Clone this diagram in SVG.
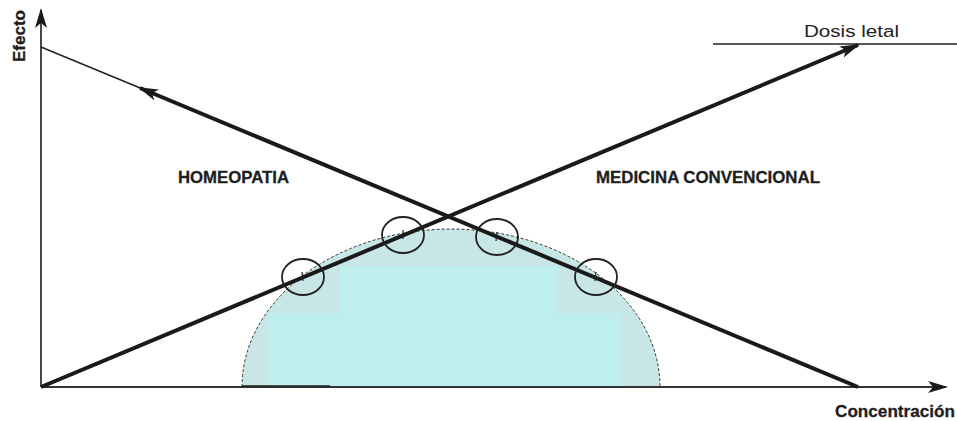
<svg xmlns="http://www.w3.org/2000/svg" width="957" height="421" viewBox="0 0 957 421">
<style>
.lbl{font-family:"Liberation Sans",Arial,sans-serif;font-weight:bold;fill:#1e1e1e;stroke:#1e1e1e;stroke-width:0.3}
.thick{stroke:#1a1a1a;stroke-width:4;fill:none}
.axis{stroke:#333;stroke-width:1.8;fill:none}
.ring{fill:none;stroke:#222;stroke-width:1.8}
</style>
<defs>
<clipPath id="dome"><ellipse cx="451" cy="387" rx="209" ry="158"/></clipPath>
<marker id="ah" viewBox="0 0 20 12" refX="18" refY="6" markerWidth="20" markerHeight="12" markerUnits="userSpaceOnUse" orient="auto">
<path d="M0,0 L20,6 L0,12 L5,6 Z" fill="#1a1a1a"/>
</marker>
</defs>
<rect width="957" height="421" fill="#fff"/>
<g id="dome-area">
<g clip-path="url(#dome)">
<rect x="240" y="225" width="422" height="162" fill="#c8e6e6"/>
<rect x="340" y="266" width="218" height="121" fill="#bfeeee"/>
<rect x="269" y="313" width="353" height="74" fill="#bfeeee"/>
</g>
<path d="M242,387 A209,158 0 0 1 660,387" fill="none" stroke="#333" stroke-width="1" stroke-dasharray="3,2"/>
</g>
<g id="connectors">
<line class="axis" x1="41" y1="387" x2="41" y2="10" marker-end="url(#ah)"/>
<line class="axis" x1="41" y1="387" x2="946" y2="387" marker-end="url(#ah)"/>
<line x1="713" y1="44" x2="957" y2="44" stroke="#222" stroke-width="1.5"/>
<line x1="41" y1="47" x2="145" y2="90" stroke="#222" stroke-width="1.5"/>
<line class="thick" x1="858" y1="387" x2="140" y2="88" marker-end="url(#ah)"/>
<line class="thick" x1="41" y1="387" x2="858" y2="45" marker-end="url(#ah)"/>
<line x1="242" y1="386" x2="330" y2="386" stroke="#222" stroke-width="1.5"/>
</g>
<g id="rings">
<ellipse class="ring" cx="303" cy="277" rx="21" ry="18"/>
<ellipse class="ring" cx="403" cy="235" rx="21" ry="18"/>
<ellipse class="ring" cx="497" cy="237" rx="21" ry="18"/>
<ellipse class="ring" cx="596" cy="277" rx="21" ry="18"/>
<g stroke="#222" stroke-width="1.2">
<line x1="302" y1="272" x2="303" y2="281"/>
<line x1="403" y1="230" x2="403" y2="239"/>
<line x1="497" y1="232" x2="496" y2="241"/>
<line x1="596" y1="272" x2="595" y2="281"/>
</g>
</g>
<g id="labels">
<text class="lbl" x="178" y="183" font-size="17" textLength="111" lengthAdjust="spacingAndGlyphs">HOMEOPATIA</text>
<text class="lbl" x="596" y="183" font-size="17" textLength="224" lengthAdjust="spacingAndGlyphs">MEDICINA CONVENCIONAL</text>
<text class="lbl" x="835" y="417" font-size="17" textLength="120" lengthAdjust="spacingAndGlyphs">Concentración</text>
<text class="lbl" transform="translate(25,62) rotate(-90)" font-size="17" textLength="52" lengthAdjust="spacingAndGlyphs">Efecto</text>
<text x="804" y="37" font-family="Liberation Sans,Arial,sans-serif" font-size="16" fill="#222" textLength="95" lengthAdjust="spacingAndGlyphs">Dosis letal</text>
</g>
</svg>
